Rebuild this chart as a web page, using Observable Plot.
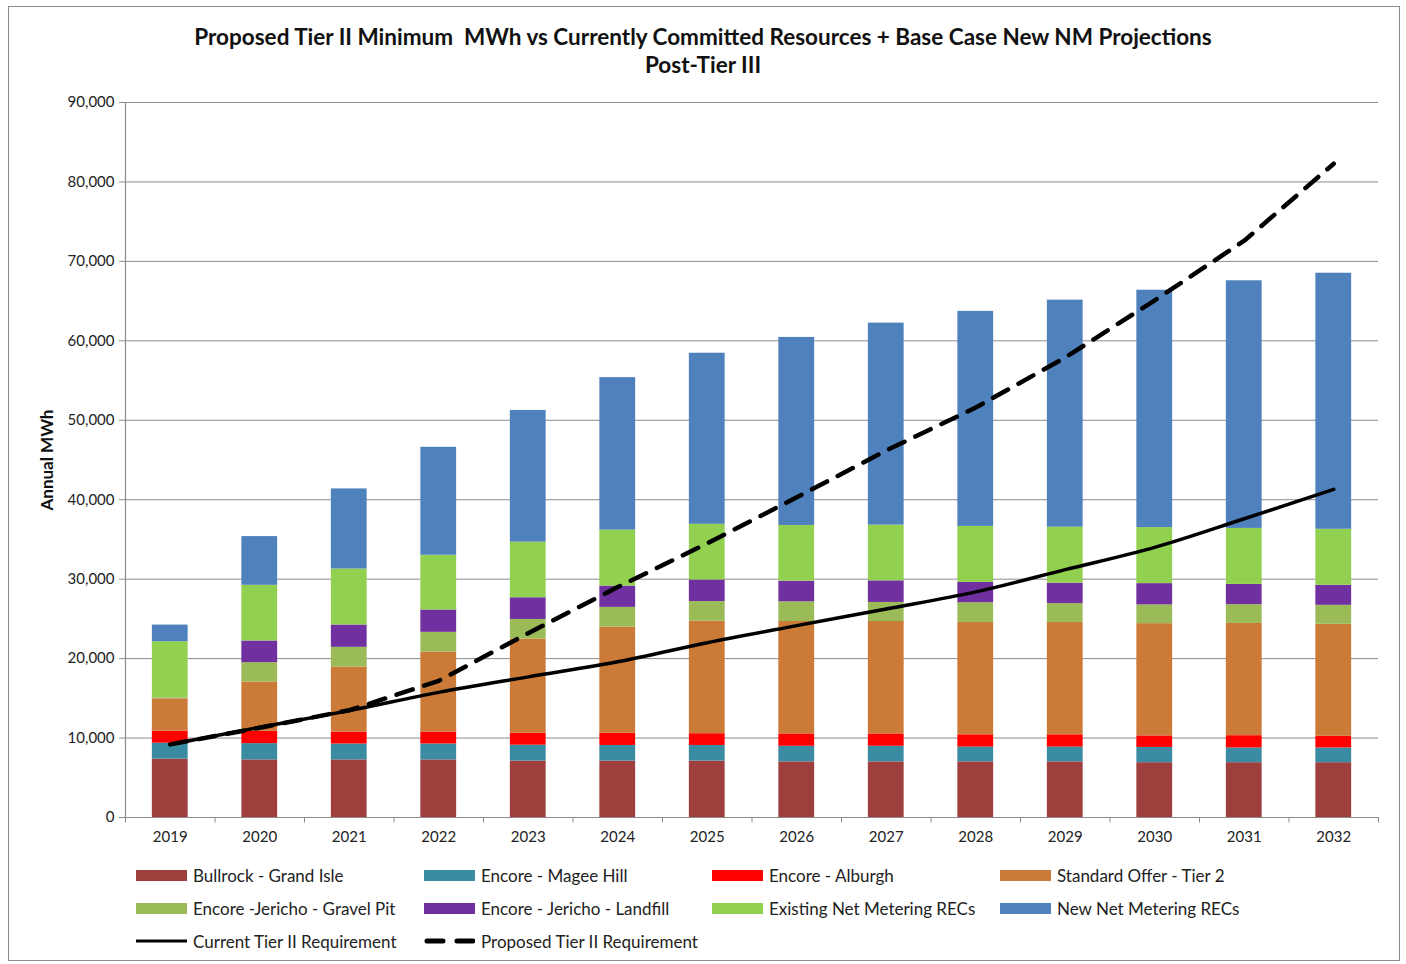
<!DOCTYPE html>
<html>
<head>
<meta charset="utf-8">
<script src="https://cdn.jsdelivr.net/npm/d3@7"></script>
<script src="https://cdn.jsdelivr.net/npm/@observablehq/plot@0.6"></script>
<style>
  html, body { margin: 0; padding: 0; background: #fff; }
  body { width: 1406px; height: 964px; position: relative; overflow: hidden; font-family: Lato, "Open Sans", sans-serif; color: #111; }
  #frame { position: absolute; left: 8px; top: 6px; width: 1392px; height: 955px; border: 1.5px solid #8a8a8a; box-sizing: border-box; z-index: 5; pointer-events: none; }
  .title { position: absolute; left: 0; width: 1406px; text-align: center; font-weight: bold; font-size: 22.5px; }
  #chart { position: absolute; left: 0; top: 80px; }
  #ylabel { position: absolute; left: 46px; top: 460px; transform: translate(-50%, -50%) rotate(-90deg); font-weight: bold; font-size: 17px; white-space: nowrap; }
  .leg { position: absolute; font-size: 17px; display: flex; align-items: center; white-space: nowrap; color: #222; }
  .sw { width: 51px; height: 11px; margin-right: 6px; }
</style>
</head>
<body>
<div id="frame"></div>
<div class="title" style="top:23px">Proposed Tier II Minimum&nbsp; MWh vs Currently Committed Resources + Base Case New NM Projections</div>
<div class="title" style="top:51px">Post-Tier III</div>
<div id="chart"></div>
<div id="ylabel">Annual MWh</div>
<div id="legend"></div>
<script>
const years = ["2019","2020","2021","2022","2023","2024","2025","2026","2027","2028","2029","2030","2031","2032"];
const seriesNames = ["Bullrock - Grand Isle","Encore - Magee Hill","Encore - Alburgh","Standard Offer - Tier 2","Encore -Jericho - Gravel Pit","Encore - Jericho - Landfill","Existing Net Metering RECs","New Net Metering RECs"];
const seriesColors = ["#9E3F3E","#3B8CA3","#FF0000","#CC7A37","#9BBB59","#7030A0","#92D050","#4F81BD"];

const bullrock   = [7350,7250,7250,7250,7100,7100,7100,7000,7000,7000,7000,6900,6900,6900];
const mageeHill  = [2000,2050,2000,2000,2000,1970,1970,1970,1970,1860,1860,1920,1850,1850];
const alburgh    = [1520,1550,1510,1510,1510,1550,1480,1550,1550,1550,1550,1450,1550,1470];
const standardOffer = [4070,6210,8180,10070,11840,13350,14150,14150,14150,14140,14140,14130,14130,14100];
const gravelPit  = [130,2430,2480,2480,2480,2480,2480,2480,2400,2480,2380,2360,2360,2390];
const landfill   = [0,2730,2810,2810,2730,2680,2720,2600,2720,2560,2560,2680,2550,2520];
const existingNM = [7050,7010,7050,6890,7000,7050,7010,7010,7010,7050,7050,7050,7050,7050];
const newNM      = [2100,6130,10080,13590,16580,19190,21530,23670,25430,27070,28580,29880,31170,32230];

const currentReq  = [9200,11350,13450,15750,17700,19600,22000,24150,26250,28400,31200,34000,37600,41300];
const proposedReq = [9200,11300,13500,17200,23200,29000,34500,40300,46200,51600,57900,65100,72600,82300];

const yTicks = [0,10000,20000,30000,40000,50000,60000,70000,80000,90000];

const seriesValues = [bullrock, mageeHill, alburgh, standardOffer, gravelPit, landfill, existingNM, newNM];
const rows = [];
seriesNames.forEach((s, i) => years.forEach((y, j) => rows.push({year: y, series: s, value: seriesValues[i][j]})));
const cur = years.map((y, j) => ({year: y, value: currentReq[j]}));
const prop = years.map((y, j) => ({year: y, value: proposedReq[j]}));

const W = 1406, ML = 125, MR = 28, MT = 22, MB = 40, PH = 715;
const step = (W - ML - MR) / years.length;
const grey = "#8c8c8c";

const chart = Plot.plot({
  width: W,
  height: MT + PH + MB,
  marginLeft: ML, marginRight: MR, marginTop: MT, marginBottom: MB,
  style: {fontFamily: "Lato, 'Open Sans', sans-serif", fontSize: "15px", color: "#222", background: "transparent"},
  x: {type: "band", domain: years, paddingInner: 0.6, paddingOuter: 0.3, round: false, label: null},
  y: {domain: [0, 90000], label: null},
  color: {domain: seriesNames, range: seriesColors},
  marks: [
    Plot.gridY(yTicks, {stroke: grey, strokeOpacity: 1, strokeWidth: 1}),
    Plot.barY(rows, {x: "year", y: "value", fill: "series", order: seriesNames}),
    Plot.ruleY([0], {stroke: grey, strokeWidth: 1.2}),
    Plot.ruleX([years[0]], {x: d => d, dx: -step / 2, y1: 0, y2: 90000, stroke: grey, strokeWidth: 1.2}),
    Plot.ruleX(years, {x: d => d, dx: -step / 2, y1: 0, y2: -700, stroke: grey}),
    Plot.ruleX([years[years.length - 1]], {x: d => d, dx: step / 2, y1: 0, y2: -700, stroke: grey}),
    Plot.line(cur, {x: "year", y: "value", stroke: "black", strokeWidth: 3.5, curve: "monotone-x"}),
    Plot.line(prop, {x: "year", y: "value", stroke: "black", strokeWidth: 4.5, strokeDasharray: "17,12", strokeLinecap: "round"}),
    Plot.axisY(yTicks, {tickFormat: d3.format(","), tickSize: 6, tickPadding: 5, stroke: grey, label: null, fontSize: 15}),
    Plot.axisX({tickSize: 0, tickPadding: 14, label: null, fontSize: 15})
  ]
});
document.getElementById("chart").appendChild(chart);

// Legend
const legend = document.getElementById("legend");
const colX = [136, 424, 712, 1000];
const rowY = [875, 908, 941];
seriesNames.forEach((s, i) => {
  const d = document.createElement("div");
  d.className = "leg";
  d.style.left = colX[i % 4] + "px";
  d.style.top = (rowY[Math.floor(i / 4)] - 10) + "px";
  d.style.height = "20px";
  d.innerHTML = `<div class="sw" style="background:${seriesColors[i]}"></div><span>${s}</span>`;
  legend.appendChild(d);
});
const lineItems = [["Current Tier II Requirement", null], ["Proposed Tier II Requirement", "16,14"]];
lineItems.forEach(([label, dash], i) => {
  const d = document.createElement("div");
  d.className = "leg";
  d.style.left = colX[i] + "px";
  d.style.top = (rowY[2] - 10) + "px";
  d.style.height = "20px";
  const sw = dash
    ? `<svg width="51" height="12" style="margin-right:6px"><line x1="3" y1="6" x2="49" y2="6" stroke="black" stroke-width="5" stroke-linecap="round" stroke-dasharray="${dash}"/></svg>`
    : `<svg width="51" height="12" style="margin-right:6px"><line x1="0" y1="6" x2="51" y2="6" stroke="black" stroke-width="3"/></svg>`;
  d.innerHTML = sw + `<span>${label}</span>`;
  legend.appendChild(d);
});
</script>
</body>
</html>
